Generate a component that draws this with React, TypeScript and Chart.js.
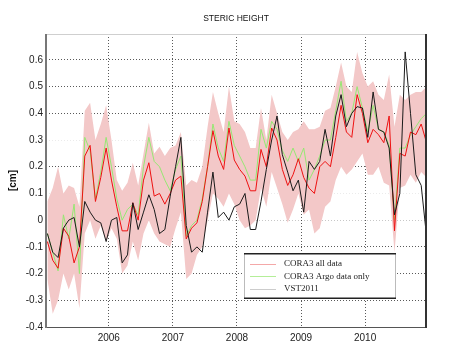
import React, { useEffect, useRef } from 'react';
import { Chart, registerables } from 'chart.js';

Chart.register(...registerables);

const START_YEAR = 2005;
const MONTHS_PER_YEAR = 12;

const cora3All = [
  -0.08, -0.15, -0.18, -0.03, -0.06, -0.16, -0.1, 0.24, 0.28, 0.07, 0.16, 0.27,
  0.15, 0.05, -0.04, -0.04, 0.065, 0.0, 0.15, 0.215, 0.09, 0.1, 0.06, 0.1,
  0.15, 0.165, -0.07, -0.03, -0.01, 0.07, 0.2, 0.335, 0.24, 0.19, 0.345, 0.225,
  0.19, 0.165, 0.11, 0.11, 0.265, 0.2, 0.345, 0.3, 0.19, 0.13, 0.17, 0.23,
  0.16, 0.12, 0.1, 0.2, 0.22, 0.2, 0.31, 0.43, 0.33, 0.31, 0.47, 0.4,
  0.29, 0.34, 0.32, 0.29, 0.39, -0.04, 0.25, 0.24, 0.33, 0.32, 0.36, 0.29,
];

const cora3Argo = [
  -0.05, -0.12, -0.19, 0.02, -0.07, 0.06, -0.2, 0.31, 0.26, 0.08, 0.18, 0.31,
  0.2, 0.08, 0.0, 0.04, 0.06, 0.02, 0.2, 0.31, 0.22, 0.2, 0.15, 0.11,
  0.19, 0.24, -0.06, -0.02, 0.0, 0.08, 0.2, 0.36, 0.27, 0.22, 0.37, 0.28,
  0.24, 0.2, 0.15, 0.15, 0.34, 0.27, 0.37, 0.34, 0.26, 0.22, 0.27, 0.22,
  0.27, 0.15, 0.19, 0.24, 0.3, 0.3, 0.41, 0.52, 0.37, 0.4, 0.5, 0.42,
  0.33, 0.43, 0.34, 0.33, 0.28, 0.0, 0.27, 0.27, 0.32, 0.35, 0.38, 0.4,
];

const vst2011 = [
  -0.05, -0.12, -0.14, -0.03, 0.0, 0.01, -0.1, 0.07, 0.03, 0.0, -0.01, -0.08,
  0.0, 0.01, -0.16, -0.13, 0.065, -0.035, 0.03, 0.095, 0.04, -0.05, -0.035, 0.09,
  0.2, 0.31, -0.02, -0.12, -0.1, -0.12, 0.03, 0.18, 0.01, 0.03, 0.0, 0.05,
  0.06, 0.1, -0.035, -0.035, 0.07, 0.19, 0.3, 0.39, 0.245, 0.18, 0.11, 0.15,
  0.03, 0.22, 0.19, 0.22, 0.34, 0.24, 0.39, 0.47, 0.35, 0.4, 0.425, 0.42,
  0.31, 0.48, 0.34, 0.33, 0.27, 0.02, 0.1, 0.63, 0.4, 0.17, 0.13, -0.06,
];

const bandUpper = [
  0.07, 0.12, 0.2, 0.1, 0.13, 0.12, 0.05, 0.41, 0.44, 0.3, 0.36, 0.43,
  0.3, 0.15, 0.11, 0.14, 0.215, 0.13, 0.25, 0.365, 0.25, 0.275, 0.24, 0.27,
  0.28, 0.33, 0.13, 0.15, 0.14, 0.2, 0.35, 0.48, 0.4, 0.33, 0.5, 0.37,
  0.36, 0.33, 0.27, 0.27, 0.42, 0.3, 0.47, 0.4, 0.33, 0.3, 0.33, 0.34,
  0.37, 0.34, 0.34, 0.35, 0.41, 0.42, 0.5, 0.59, 0.5, 0.48, 0.63, 0.55,
  0.5, 0.52, 0.47, 0.45, 0.545, 0.35, 0.47, 0.45, 0.47, 0.48, 0.48, 0.5,
];

const bandLower = [
  -0.22, -0.35, -0.3, -0.2, -0.26, -0.2, -0.33, -0.05, 0.0, -0.07, -0.02, -0.08,
  -0.03, -0.07, -0.2, -0.17, -0.08, -0.15, -0.05, 0.0, -0.05, -0.08, -0.09, -0.1,
  -0.03, 0.03, -0.22, -0.2, -0.13, -0.1, 0.0, 0.1, 0.08, 0.05, 0.1, 0.06,
  0.0, -0.03, -0.02, 0.0, 0.12, 0.05, 0.18, 0.12, 0.06, -0.01, 0.04, 0.1,
  0.02, 0.04, -0.05, -0.03, 0.05, 0.07, 0.15, 0.2, 0.17, 0.19, 0.22, 0.25,
  0.17, 0.17, 0.2, 0.14, 0.13, -0.12, 0.12, 0.13, 0.17, 0.14, 0.18, 0.16,
];

const xTicks = [2006, 2007, 2008, 2009, 2010];
const yTicks = [-0.4, -0.3, -0.2, -0.1, 0, 0.1, 0.2, 0.3, 0.4, 0.5, 0.6];
const legendLabels = ['CORA3 all data', 'CORA3 Argo data only', 'VST2011'];
const titleText = 'STERIC HEIGHT';
const yAxisLabel = '[cm]';

const toPoints = (vals: number[]) =>
  vals.map((v, i) => ({ x: START_YEAR + (i + 0.5) / MONTHS_PER_YEAR, y: v }));

const titlePlugin = {
  id: 'centeredTitle',
  afterDraw(chart: any) {
    const { ctx, chartArea: a } = chart;
    ctx.save();
    ctx.fillStyle = '#111';
    ctx.font = '8.5px "Liberation Sans", Arial, sans-serif';
    ctx.textAlign = 'center';
    ctx.textBaseline = 'middle';
    ctx.fillText(titleText, (a.left + a.right) / 2, 19);
    ctx.restore();
  },
};

const boxPlugin = {
  id: 'matlabBox',
  afterDatasetsDraw(chart: any) {
    const { ctx, chartArea: a } = chart;
    ctx.save();
    ctx.lineWidth = 1;
    ctx.strokeStyle = '#cfcfcf';
    ctx.beginPath();
    ctx.moveTo(a.left, a.top + 0.5);
    ctx.lineTo(a.right, a.top + 0.5);
    ctx.stroke();
    ctx.strokeStyle = '#555';
    ctx.beginPath();
    ctx.moveTo(a.left, a.bottom + 0.5);
    ctx.lineTo(a.right, a.bottom + 0.5);
    ctx.stroke();
    ctx.lineWidth = 2;
    ctx.strokeStyle = '#777';
    ctx.beginPath();
    ctx.moveTo(a.left, a.top);
    ctx.lineTo(a.left, a.bottom + 1);
    ctx.stroke();
    ctx.strokeStyle = '#333';
    ctx.beginPath();
    ctx.moveTo(a.right, a.top);
    ctx.lineTo(a.right, a.bottom + 1);
    ctx.stroke();
    ctx.restore();
  },
};

const legendPlugin = {
  id: 'insideLegend',
  afterDraw(chart: any) {
    const { ctx, chartArea: a } = chart;
    const x0 = a.left + 198;
    const x1 = a.left + 350;
    const y0 = a.top + 219;
    const y1 = a.top + 265;
    ctx.save();
    ctx.fillStyle = '#fff';
    ctx.fillRect(x0, y0, x1 - x0, y1 - y0);
    ctx.lineWidth = 1;
    ctx.strokeStyle = '#bbb';
    ctx.beginPath();
    ctx.moveTo(x0 + 0.5, y0);
    ctx.lineTo(x0 + 0.5, y1);
    ctx.moveTo(x1 - 0.5, y0);
    ctx.lineTo(x1 - 0.5, y1);
    ctx.stroke();
    ctx.lineWidth = 1.5;
    ctx.strokeStyle = '#222';
    ctx.beginPath();
    ctx.moveTo(x0, y0 + 0.75);
    ctx.lineTo(x1, y0 + 0.75);
    ctx.moveTo(x0, y1 - 0.75);
    ctx.lineTo(x1, y1 - 0.75);
    ctx.stroke();
    const sampleColors = ['#f4a8a8', '#b4ee98', '#cccccc'];
    ctx.font = '9px "Liberation Serif"';
    ctx.textBaseline = 'middle';
    ctx.textAlign = 'left';
    legendLabels.forEach((label, i) => {
      const y = y0 + 11 + i * 12.4;
      ctx.strokeStyle = sampleColors[i];
      ctx.lineWidth = 1;
      ctx.beginPath();
      ctx.moveTo(x0 + 6, Math.round(y) + 0.5);
      ctx.lineTo(x0 + 32, Math.round(y) + 0.5);
      ctx.stroke();
      ctx.fillStyle = '#222';
      ctx.fillText(label, x0 + 40, y);
    });
    ctx.restore();
  },
};

const faintY = (v: number) => Math.abs(v - 0.3) < 1e-6 || Math.abs(v - 0.1) < 1e-6;

export default function App() {
  const ref = useRef<HTMLCanvasElement | null>(null);

  useEffect(() => {
    if (!ref.current) return;
    const tickFont = { family: '"Liberation Sans", Arial, sans-serif', size: 10 };
    const chart = new Chart(ref.current, {
      type: 'line',
      data: {
        datasets: [
          {
            label: legendLabels[2],
            data: toPoints(vst2011),
            borderColor: '#1a1a1a',
            borderWidth: 1,
            pointRadius: 0,
            fill: false,
            tension: 0,
          },
          {
            label: legendLabels[0],
            data: toPoints(cora3All),
            borderColor: '#ee1111',
            borderWidth: 1,
            pointRadius: 0,
            fill: false,
            tension: 0,
          },
          {
            label: legendLabels[1],
            data: toPoints(cora3Argo),
            borderColor: 'rgb(150,232,115)',
            borderWidth: 1,
            pointRadius: 0,
            fill: false,
            tension: 0,
          },
          {
            label: 'upper',
            data: toPoints(bandUpper),
            borderWidth: 0,
            borderColor: 'rgba(0,0,0,0)',
            backgroundColor: 'rgb(243,200,200)',
            pointRadius: 0,
            fill: '+1',
            tension: 0,
          },
          {
            label: 'lower',
            data: toPoints(bandLower),
            borderWidth: 0,
            borderColor: 'rgba(0,0,0,0)',
            pointRadius: 0,
            fill: false,
            tension: 0,
          },
        ],
      },
      options: {
        animation: false,
        responsive: false,
        devicePixelRatio: 1,
        layout: { padding: { left: 0, right: 24, top: 34, bottom: 0 } },
        plugins: {
          legend: { display: false },
          tooltip: { enabled: false },
          title: { display: false },
        },
        scales: {
          x: {
            type: 'linear',
            min: 2005.02,
            max: 2010.95,
            afterBuildTicks: (s: any) => {
              s.ticks = xTicks.map((v) => ({ value: v }));
            },
            afterFit: (s: any) => {
              s.height = 25;
            },
            ticks: {
              autoSkip: false,
              maxRotation: 0,
              padding: 5,
              color: '#222',
              font: tickFont,
              callback: (v: any) => String(v),
            },
            grid: {
              drawTicks: false,
              drawOnChartArea: true,
              color: 'rgba(0,0,0,0.65)',
              lineWidth: 1,
            },
            border: { display: false, dash: [1, 2] },
          },
          y: {
            type: 'linear',
            min: -0.4,
            max: 0.697,
            afterBuildTicks: (s: any) => {
              s.ticks = yTicks.map((v) => ({ value: v }));
            },
            afterFit: (s: any) => {
              s.width = 46;
            },
            ticks: {
              padding: 3,
              color: '#222',
              font: tickFont,
              callback: (v: any) => (Math.abs(v) < 1e-9 ? '0' : Number(v).toFixed(1)),
            },
            grid: {
              drawTicks: false,
              drawOnChartArea: true,
              lineWidth: 1,
              color: (c: any) => {
                const v = c.tick ? c.tick.value : 1;
                if (faintY(v)) return 'rgba(0,0,0,0.08)';
                if (Math.abs(v) < 1e-9) return 'rgba(0,0,0,0.22)';
                return 'rgba(0,0,0,0.65)';
              },
            },
            border: { display: false, dash: [1, 2] },
            title: {
              display: true,
              text: yAxisLabel,
              color: '#111',
              font: { family: '"Liberation Sans", Arial, sans-serif', size: 10, weight: 'bold' },
              padding: { top: 7, bottom: 0 },
            },
          },
        },
      },
      plugins: [boxPlugin, legendPlugin, titlePlugin],
    } as any);
    return () => chart.destroy();
  }, []);

  return (
    <div style={{ position: 'fixed', left: 0, top: 0, width: 450, height: 352, background: '#fff' }}>
      <canvas ref={ref} width={450} height={352} style={{ display: 'block' }} />
    </div>
  );
}
